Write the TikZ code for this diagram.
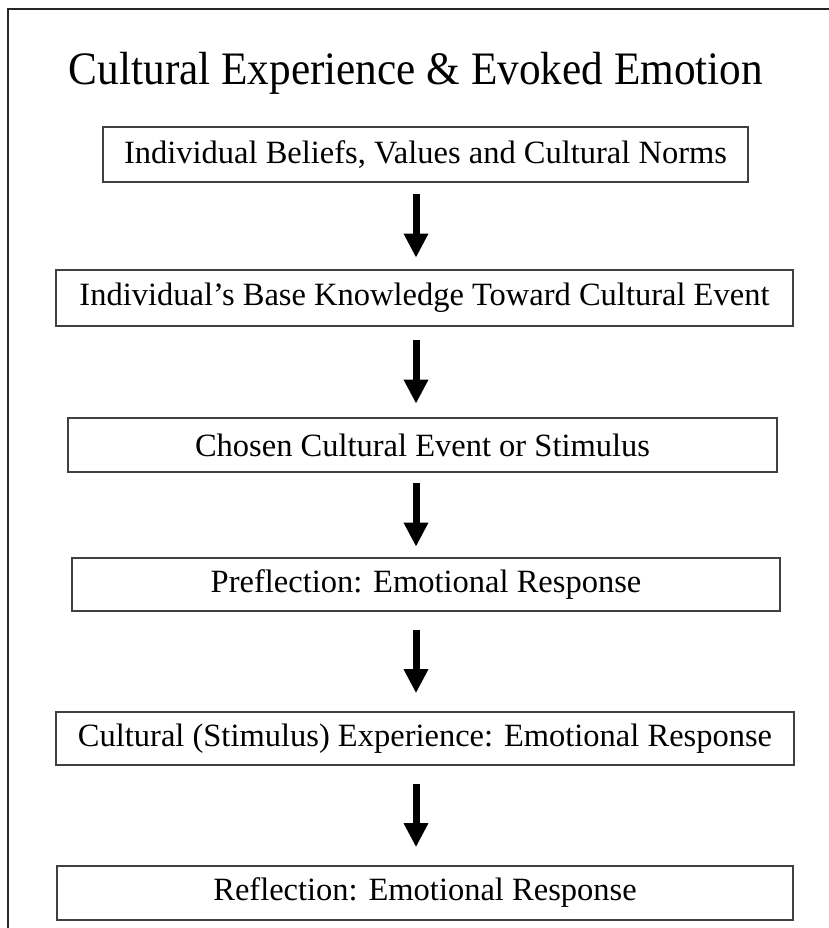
\documentclass[tikz,border=0pt]{standalone}
\usepackage{fontspec}
\setmainfont{Liberation Serif}
\newfontfamily\titlefont[FakeStretch=0.93]{Liberation Serif}
\usetikzlibrary{arrows.meta}
\tikzset{
    stage/.style={rectangle, draw=black!75, line width=1.6pt, inner sep=0pt, align=center, font=\fontsize{32.5}{38}\selectfont},
    heading/.style={anchor=base, inner sep=0pt, font=\titlefont\fontsize{46.5}{52}\selectfont},
    arrow/.style={line width=7pt, -{Triangle[width=23pt, length=24pt]}}
}

\begin{document}
\begin{tikzpicture}[x=1pt, y=-1pt]
    \useasboundingbox (0,0) rectangle (829,928);
    % Frame (top and left only)
    \draw[line width=1.5pt, black!85] (829,9) -- (8,9) -- (8,928);

    % Title
    \node[heading] (title) at (416,85) {Cultural Experience \& Evoked Emotion};

    % Stages
    \node[stage, minimum width=645pt, minimum height=55pt] (belief) at (425.5,154.5) {Individual Beliefs, Values and Cultural Norms};
    \node[stage, minimum width=737pt, minimum height=56pt] (knowledge) at (424.5,298) {Individual's Base Knowledge Toward Cultural Event};
    \node[stage, minimum width=709pt, minimum height=54pt] (event) at (422.5,445) {Chosen Cultural Event or Stimulus};
    \node[stage, minimum width=708pt, minimum height=53pt] (preflect) at (426,584.5) {Preflection: Emotional Response};
    \node[stage, minimum width=738pt, minimum height=53pt] (experience) at (425,738.5) {Cultural (Stimulus) Experience: Emotional Response};
    \node[stage, minimum width=736pt, minimum height=54pt] (reflect) at (425,893) {Reflection: Emotional Response};

    % Arrows (under the title centre)
    \foreach \a/\b/\s in {belief/knowledge/11.5, knowledge/event/13.5, event/preflect/10.5, preflect/experience/18, experience/reflect/18} {
        \draw[arrow, shorten <=\s pt, shorten >=\s pt] (\a.south -| title) -- (\b.north -| title);
    }
\end{tikzpicture}
\end{document}
